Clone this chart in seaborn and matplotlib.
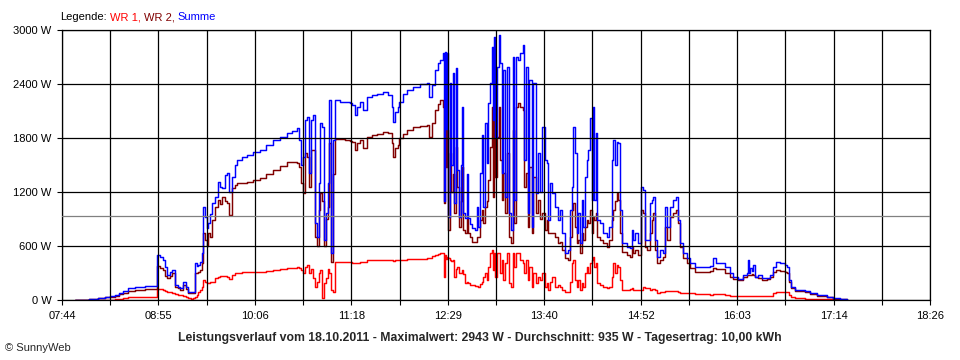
import pandas as pd
import matplotlib
matplotlib.use("Agg")
import matplotlib.pyplot as plt
import numpy as np
import seaborn as sns

# Messzeitpunkte (hh:mm:ss) und Leistung in W
zeit = [
    "07:53:37", "07:57:19", "08:03:59", "08:10:38", "08:15:49", "08:19:31", "08:23:13", "08:26:11",
    "08:29:08", "08:32:50", "08:38:01", "08:45:25", "08:53:34", "08:54:18", "08:56:31", "08:58:44",
    "09:00:13", "09:01:42", "09:03:55", "09:05:24", "09:07:37", "09:09:50", "09:11:19", "09:13:32",
    "09:15:46", "09:17:14", "09:19:28", "09:20:56", "09:22:25", "09:23:54", "09:24:38", "09:26:07",
    "09:27:36", "09:28:20", "09:29:49", "09:31:18", "09:32:02", "09:33:31", "09:35:00", "09:37:13",
    "09:39:26", "09:40:55", "09:42:24", "09:44:37", "09:46:06", "09:47:35", "09:49:48", "09:52:01",
    "09:53:30", "09:57:12", "10:00:54", "10:05:20", "10:10:31", "10:14:58", "10:20:08", "10:25:19",
    "10:30:30", "10:34:12", "10:37:54", "10:39:23", "10:40:52", "10:42:20", "10:43:49", "10:45:18",
    "10:46:47", "10:48:16", "10:49:44", "10:51:13", "10:52:42", "10:54:11", "10:54:55", "10:56:24",
    "10:57:53", "10:59:22", "11:00:50", "11:01:35", "11:03:04", "11:04:32", "11:06:01", "11:09:43",
    "11:13:25", "11:17:07", "11:18:36", "11:20:49", "11:22:18", "11:24:31", "11:26:44", "11:29:42",
    "11:33:24", "11:37:06", "11:41:32", "11:45:14", "11:48:12", "11:48:56", "11:50:25", "11:52:38",
    "11:53:23", "11:56:20", "11:59:18", "12:03:44", "12:08:55", "12:14:06", "12:15:35", "12:17:48",
    "12:20:01", "12:22:14", "12:23:43", "12:25:56", "12:26:41", "12:27:25", "12:28:10", "12:28:54",
    "12:29:38", "12:31:07", "12:31:52", "12:33:20", "12:34:05", "12:35:34", "12:36:18", "12:37:47",
    "12:39:16", "12:40:00", "12:40:44", "12:42:13", "12:43:42", "12:44:26", "12:45:55", "12:47:24",
    "12:49:37", "12:51:06", "12:51:50", "12:53:19", "12:54:48", "12:55:32", "12:57:01", "12:58:30",
    "12:59:14", "13:00:43", "13:02:12", "13:02:56", "13:03:41", "13:04:25", "13:05:54", "13:07:23",
    "13:08:07", "13:09:36", "13:10:20", "13:11:49", "13:13:18", "13:14:47", "13:16:16", "13:17:44",
    "13:18:29", "13:19:58", "13:21:26", "13:22:55", "13:25:08", "13:25:53", "13:27:22", "13:28:50",
    "13:29:35", "13:31:48", "13:32:32", "13:34:46", "13:36:14", "13:37:43", "13:39:12", "13:41:25",
    "13:42:54", "13:43:38", "13:45:07", "13:46:36", "13:48:49", "13:51:02", "13:52:31", "13:54:00",
    "13:56:13", "13:58:26", "13:59:55", "14:01:24", "14:02:08", "14:03:37", "14:05:06", "14:05:50",
    "14:07:19", "14:08:48", "14:09:32", "14:11:01", "14:12:30", "14:13:14", "14:14:43", "14:16:12",
    "14:16:56", "14:17:41", "14:19:10", "14:19:54", "14:22:07", "14:24:20", "14:27:18", "14:28:47",
    "14:31:00", "14:31:44", "14:33:13", "14:34:42", "14:35:26", "14:36:55", "14:38:24", "14:42:06",
    "14:44:19", "14:45:48", "14:46:32", "14:48:01", "14:50:14", "14:52:28", "14:53:56", "14:55:25",
    "14:56:54", "14:59:07", "15:00:36", "15:01:20", "15:02:49", "15:04:18", "15:06:31", "15:08:44",
    "15:10:13", "15:11:42", "15:13:55", "15:16:08", "15:18:22", "15:19:50", "15:21:19", "15:23:32",
    "15:26:30", "15:28:43", "15:32:25", "15:39:49", "15:43:31", "15:45:44", "15:47:58", "15:52:24",
    "15:54:37", "15:58:19", "16:00:32", "16:04:14", "16:07:56", "16:10:54", "16:11:38", "16:12:23",
    "16:13:07", "16:14:36", "16:15:20", "16:16:49", "16:19:02", "16:22:00", "16:25:42", "16:27:55",
    "16:30:08", "16:32:22", "16:35:19", "16:39:01", "16:40:30", "16:41:59", "16:43:28", "16:46:25",
    "16:53:49", "16:57:31", "17:02:42", "17:10:06", "17:14:32", "17:19:43", "17:24:54",
]
wr1 = [
    0, 0, 0, 0, 2, 5, 8, 10, 25, 28, 30, 32, 35, 125, 120, 111,
    100, 92, 85, 81, 63, 60, 55, 44, 30, 18, 15, 18, 37, 60, 92, 110,
    148, 222, 204, 190, 185, 200, 204, 240, 259, 262, 267, 262, 259, 230, 278, 295,
    304, 310, 315, 315, 315, 325, 333, 340, 352, 360, 370, 352, 330, 296, 370, 389,
    300, 350, 240, 148, 200, 300, 330, 18, 185, 250, 350, 300, 111, 92, 426, 426,
    426, 420, 415, 415, 415, 418, 418, 444, 444, 444, 450, 450, 440, 430, 440, 445,
    450, 450, 452, 455, 460, 463, 463, 489, 500, 510, 519, 519, 259, 500, 460, 480,
    463, 450, 430, 440, 259, 350, 370, 296, 300, 330, 290, 185, 200, 185, 170, 167,
    160, 160, 148, 180, 200, 260, 296, 222, 370, 519, 556, 333, 519, 259, 519, 519,
    296, 444, 222, 407, 519, 185, 148, 519, 370, 519, 519, 444, 407, 296, 444, 222,
    370, 148, 296, 185, 259, 220, 296, 148, 185, 111, 200, 259, 148, 167, 150, 111,
    93, 93, 200, 407, 444, 222, 148, 222, 111, 185, 148, 296, 370, 296, 407, 444,
    481, 370, 407, 185, 167, 148, 130, 148, 259, 407, 300, 389, 370, 222, 111, 111,
    118, 130, 111, 111, 111, 111, 148, 130, 130, 111, 118, 118, 111, 81, 93, 93,
    100, 100, 104, 104, 104, 93, 81, 81, 74, 74, 67, 67, 60, 63, 67, 67,
    56, 44, 44, 44, 44, 50, 50, 50, 48, 48, 48, 48, 44, 44, 44, 48,
    74, 85, 93, 93, 89, 56, 30, 18, 15, 15, 10, 7, 4, 0, 0,
]
wr2 = [
    5, 2, 10, 18, 28, 35, 50, 70, 80, 100, 115, 120, 122, 380, 360, 333,
    270, 240, 270, 296, 148, 130, 111, 167, 120, 74, 80, 81, 296, 300, 315, 330,
    407, 740, 667, 600, 740, 700, 889, 1037, 1111, 1070, 1148, 1100, 1074, 944, 1241, 1280,
    1296, 1305, 1315, 1330, 1352, 1400, 1444, 1490, 1537, 1530, 1519, 1481, 1300, 1185, 1630, 1593,
    1259, 1667, 1667, 700, 600, 1000, 1185, 1100, 600, 900, 1037, 1741, 420, 1400, 1785, 1785,
    1780, 1770, 1759, 1667, 1740, 1778, 1685, 1815, 1830, 1845, 1870, 1852, 1741, 1593, 1685, 1720,
    1796, 1850, 1889, 1919, 1930, 1944, 1815, 1963, 2111, 2180, 2222, 2148, 1074, 2200, 1481, 1889,
    778, 1630, 1200, 1400, 963, 1700, 1259, 815, 1100, 1481, 778, 741, 900, 741, 700, 650,
    640, 700, 704, 889, 1000, 852, 1037, 1100, 1333, 1704, 2148, 1148, 2296, 1370, 1815, 2148,
    1556, 1111, 1407, 963, 1630, 704, 630, 1889, 852, 2148, 2185, 2148, 2111, 1259, 1407, 815,
    1481, 741, 1370, 963, 1111, 900, 963, 778, 889, 741, 750, 741, 704, 630, 640, 556,
    463, 444, 700, 1000, 1074, 815, 630, 667, 519, 741, 667, 815, 889, 852, 1000, 741,
    926, 889, 963, 704, 667, 630, 593, 667, 889, 1000, 1100, 1185, 1111, 741, 537, 500,
    481, 593, 519, 556, 500, 1000, 963, 593, 556, 741, 889, 963, 556, 407, 444, 481,
    815, 667, 926, 963, 1000, 852, 593, 463, 407, 352, 315, 315, 320, 352, 341, 341,
    296, 259, 230, 222, 259, 278, 278, 280, 278, 285, 278, 252, 241, 222, 230, 259,
    315, 333, 326, 315, 296, 204, 130, 100, 90, 63, 45, 30, 15, 10, 0,
]
summe = [
    5, 2, 10, 20, 30, 40, 60, 80, 100, 130, 150, 155, 160, 500, 480, 444,
    370, 278, 310, 333, 167, 150, 130, 204, 140, 93, 90, 93, 407, 380, 389, 420,
    519, 1037, 926, 800, 852, 960, 1074, 1148, 1315, 1260, 1240, 1390, 1407, 1204, 1370, 1500,
    1556, 1590, 1611, 1640, 1667, 1720, 1778, 1815, 1852, 1880, 1907, 1778, 1500, 1593, 2000, 2037,
    1407, 2000, 2055, 852, 704, 1300, 1963, 1926, 667, 963, 1300, 2222, 520, 1778, 2222, 2204,
    2200, 2190, 2167, 2055, 2150, 2204, 2111, 2259, 2275, 2290, 2315, 2278, 2148, 1981, 2093, 2150,
    2204, 2290, 2333, 2370, 2395, 2415, 2259, 2393, 2556, 2630, 2667, 2741, 1100, 2760, 1900, 2740,
    926, 2407, 1500, 2519, 1074, 2574, 1444, 926, 1500, 2148, 963, 907, 1400, 907, 850, 800,
    780, 1037, 815, 1407, 1833, 1037, 1963, 1519, 2185, 2407, 2815, 2000, 2926, 1815, 2593, 2943,
    2630, 1407, 2556, 1148, 2593, 963, 778, 2704, 1111, 2704, 2667, 2741, 2833, 1556, 2593, 963,
    2444, 815, 2407, 1185, 1630, 1200, 1926, 1556, 1520, 889, 1300, 1185, 1037, 889, 1000, 741,
    519, 556, 1000, 1259, 1926, 1630, 741, 963, 630, 1111, 815, 1370, 1556, 1667, 2019, 1111,
    2148, 1111, 1852, 889, 852, 741, 704, 815, 1556, 1778, 1500, 1759, 1741, 1000, 630, 593,
    580, 778, 667, 741, 630, 1259, 1222, 667, 667, 1074, 1111, 1148, 667, 482, 556, 519,
    1037, 815, 1037, 1111, 1148, 889, 630, 519, 463, 407, 370, 370, 375, 463, 415, 415,
    363, 296, 252, 237, 278, 296, 444, 300, 352, 320, 389, 260, 278, 241, 248, 278,
    370, 426, 415, 389, 363, 222, 148, 111, 105, 74, 55, 37, 19, 11, 0,
]

serien = ["WR 1", "WR 2", "Summe"]
farben = {"WR 1": "#ff0000", "WR 2": "#800000", "Summe": "#0000ff"}
y_werte = [0, 600, 1200, 1800, 2400, 3000]
x_labels = ["07:44", "08:55", "10:06", "11:18", "12:29", "13:40", "14:52", "16:03", "17:14", "18:26"]
durchschnitt = 935
titel = ("Leistungsverlauf vom 18.10.2011 - Maximalwert: 2943 W - Durchschnitt: 935 W"
         " - Tagesertrag: 10,00 kWh")

sns.set_style("ticks")
plt.rcParams["font.family"] = ["Liberation Sans", "DejaVu Sans"]

minuten = pd.to_timedelta(zeit).total_seconds() / 60
df = pd.DataFrame({"t": minuten, "WR 1": wr1, "WR 2": wr2, "Summe": summe})
df = df.melt(id_vars="t", var_name="Serie", value_name="W")

fig = plt.figure(figsize=(9.6, 3.6), dpi=100)
ax = fig.add_axes([62 / 960, 60 / 360, 868 / 960, 270 / 360])

sns.lineplot(data=df, x="t", y="W", hue="Serie", hue_order=serien, palette=farben,
             estimator=None, drawstyle="steps-post", linewidth=1.05,
             legend=False, ax=ax)

# Durchschnittslinie
ax.axhline(durchschnitt, color="#808080", linewidth=0.9, zorder=2.6)

t0 = pd.to_timedelta(x_labels[0] + ":00").total_seconds() / 60
t1 = pd.to_timedelta(x_labels[-1] + ":00").total_seconds() / 60
xt = np.linspace(t0, t1, 2 * len(x_labels) - 1)
xl = []
for lab in x_labels:
    xl += [lab, ""]
ax.set_xticks(xt)
ax.set_xticklabels(xl[:-1])
ax.set_xlim(t0, t1)
ax.set_yticks(y_werte)
ax.set_yticklabels([f"{v} W" for v in y_werte])
ax.set_ylim(0, 3000)
ax.set_xlabel("")
ax.set_ylabel("")

ax.grid(True, color="black", linewidth=0.9)
ax.set_axisbelow(False)
for s in ax.spines.values():
    s.set_visible(True)
    s.set_color("black")
    s.set_linewidth(0.9)
ax.tick_params(direction="out", length=3.6, width=0.8, color="black",
               labelsize=8, pad=4, labelcolor="black")

# Legende als farbige Textstücke
r = fig.canvas.get_renderer()
x = 60 / 960
for txt, col in [("Legende:", "black")] + [(s + ("," if s != "Summe" else ""), farben[s]) for s in serien]:
    t = fig.text(x, 1 - 17 / 360, txt, color=col, fontsize=8, va="center")
    bb = t.get_window_extent(renderer=r)
    x = (bb.x1 + 3) / fig.bbox.width

fig.text(0.5, 1 - 337.5 / 360, titel, ha="center", va="center", fontsize=8.8, fontweight="bold")
fig.text(5 / 960, 1 - 348 / 360, "© SunnyWeb", fontsize=8, va="center")

fig.savefig("out.png", dpi=100)
